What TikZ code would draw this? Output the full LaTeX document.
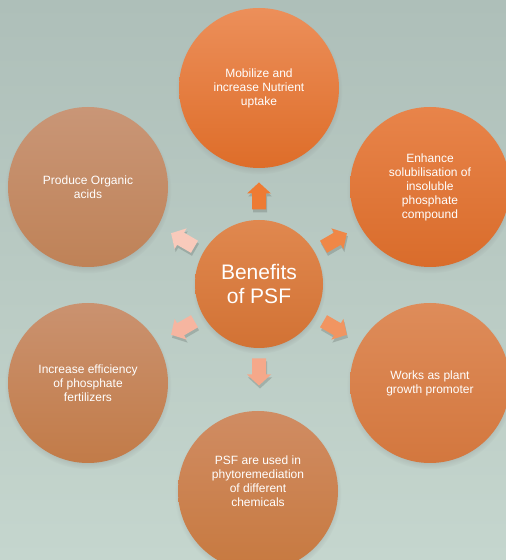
\documentclass[tikz,border=0pt]{standalone}
\usepackage{fontspec}
\setmainfont{Liberation Sans}
\usetikzlibrary{shadows,calc}
\definecolor{bgtop}{HTML}{AEBFB9}
\definecolor{bgmid}{HTML}{C8D9D2}
\definecolor{bgbot}{HTML}{C5D6CE}
\definecolor{hubT}{HTML}{E0884F}\definecolor{hubB}{HTML}{D27234}
\definecolor{tT}{HTML}{EC8F5A}\definecolor{tB}{HTML}{DE6D29}
\definecolor{rtT}{HTML}{E8844A}\definecolor{rtB}{HTML}{D96C2B}
\definecolor{rbT}{HTML}{DE8C5A}\definecolor{rbB}{HTML}{D3773E}
\definecolor{bT}{HTML}{D08C63}\definecolor{bB}{HTML}{C7793F}
\definecolor{lbT}{HTML}{CA9270}\definecolor{lbB}{HTML}{C27B48}
\definecolor{ltT}{HTML}{C99677}\definecolor{ltB}{HTML}{BF8257}
\definecolor{a1}{HTML}{EE7B33}
\definecolor{a2}{HTML}{EF8747}
\definecolor{a3}{HTML}{F19561}
\definecolor{a4}{HTML}{F5A88A}
\definecolor{a5}{HTML}{F6B5A0}
\definecolor{a6}{HTML}{F9CABB}
\tikzset{
  bubble/.style={circle, minimum size=160pt, inner sep=0pt, text=white, align=center,
    font=\fontsize{12}{14}\selectfont,
    circular drop shadow={shadow xshift=0pt, shadow yshift=-3pt, shadow scale=1.04, opacity=0.45}},
  hub/.style={bubble, minimum size=128pt, font=\fontsize{21}{24}\selectfont},
  blockarrow/.pic={\fill[pic actions] (-13.5,-7) -- (2.5,-7) -- (2.5,-12) -- (13.5,0) -- (2.5,12) -- (2.5,7) -- (-13.5,7) -- cycle;},
  arrowshadow/.style={fill=black, opacity=0.15}
}
\begin{document}
\begin{tikzpicture}[x=1pt,y=1pt]
\useasboundingbox (0,0) rectangle (506,560);
\clip (0,0) rectangle (506,560);
\shade[top color=bgtop, middle color=bgmid, bottom color=bgbot] (0,0) rectangle (506,560);

\node[hub, top color=hubT, bottom color=hubB] (c) at (259,276) {Benefits\\of PSF};

\node[bubble, top color=tT, bottom color=tB] (t) at (259,472) {Mobilize and\\increase Nutrient\\uptake};
\node[bubble, top color=rtT, bottom color=rtB] (rt) at (430,373) {Enhance\\solubilisation of\\insoluble\\phosphate\\compound};
\node[bubble, top color=rbT, bottom color=rbB] (rb) at (430,177) {Works as plant\\growth promoter};
\node[bubble, top color=bT, bottom color=bB] (b) at (258,69) {};
\node[text=white, align=center, font=\fontsize{12}{14}\selectfont] (bt) at (258,79) {PSF are used in\\phytoremediation\\of different\\chemicals};
\node[bubble, top color=lbT, bottom color=lbB] (lb) at (88,177) {Increase efficiency\\of phosphate\\fertilizers};
\node[bubble, top color=ltT, bottom color=ltB] (lt) at (88,373) {Produce Organic\\acids};

\foreach \ang/\col in {90/a1, 30/a2, -30/a3, -90/a4, 210/a5, 150/a6}{
  \path ($(c)+(\ang:88)+(1,-3)$) pic[rotate=\ang, arrowshadow] {blockarrow};
  \path ($(c)+(\ang:88)$) pic[rotate=\ang, fill=\col] {blockarrow};
}
\end{tikzpicture}
\end{document}
